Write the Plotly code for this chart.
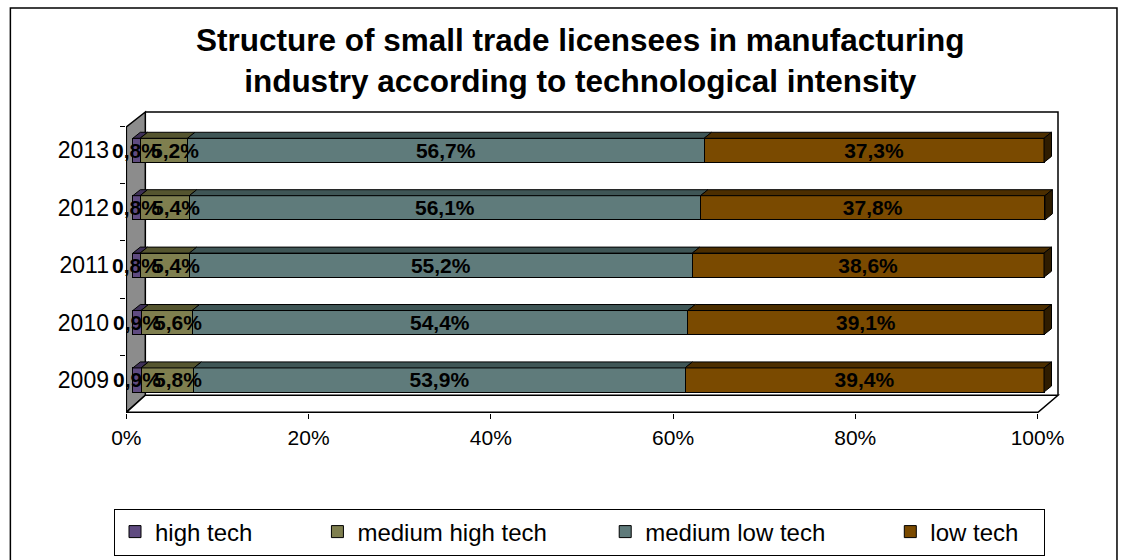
import plotly.graph_objects as go

years = [2009, 2010, 2011, 2012, 2013]
series_names = ["high tech", "medium high tech", "medium low tech", "low tech"]
high_tech = [0.9, 0.9, 0.8, 0.8, 0.8]
medium_high_tech = [5.8, 5.6, 5.4, 5.4, 5.2]
medium_low_tech = [53.9, 54.4, 55.2, 56.1, 56.7]
low_tech = [39.4, 39.1, 38.6, 37.8, 37.3]
x_ticks = [0, 20, 40, 60, 80, 100]

series_values = [high_tech, medium_high_tech, medium_low_tech, low_tech]
front_colors = ["#5f4b80", "#7f7f4f", "#5f7b7b", "#7a4a00"]
top_colors = ["#3e3057", "#55552f", "#3f5656", "#4c2e00"]
side_color = "#2e1c00"
label_font = dict(family="Arial, Liberation Sans", size=21, color="black", weight="bold")
# extra room after each legend name, like the excel legend spacing
legend_pad = [9, 8, 9, 3]

# 3d look: bars sit at mid depth, the axis / ticks on the front plane
px_per = 9.115           # pixels per 1 %
x0_px = 132.5            # pixel of 0 % at bar depth
cat_px = 57.35           # pixels per year
y0_px = 379.7            # pixel of 2009 at bar depth
dx = 7.5 / px_per        # bar depth offset in % units
dy = 6 / cat_px          # bar depth offset in year units
fx = 6.5 / px_per        # front plane offset (%)
fy = 4.5 / cat_px        # front plane offset (years)
bar_w = 0.42
# the plot area covers the whole 3d box, walls included
x_lo, x_hi = -0.75, (1061 - x0_px) / px_per
y_lo, y_hi = 2008.425, 2009 + (y0_px - 108) / cat_px
L = x0_px + x_lo * px_per
R = x0_px + x_hi * px_per
B = y0_px + (2009 - y_lo) * cat_px
T = y0_px - (y_hi - 2009) * cat_px
W, H = R - L, B - T


def px_x(p):
    return (p - L) / W


def px_y(p):
    return (B - p) / H


def box_path(pts, close=True):
    # pixel corners of the 3d box -> axis units
    p = "M " + " L ".join(f"{(a - x0_px) / px_per},{2009 + (y0_px - b) / cat_px}" for a, b in pts)
    return p + " Z" if close else p


fig = go.Figure()
for name, vals, col, pad in zip(series_names, series_values, front_colors, legend_pad):
    narrow = name in ("high tech", "medium high tech")
    fig.add_trace(go.Bar(
        y=years, x=vals, name=name + "\u00a0" * pad, orientation="h",
        marker=dict(color=col, line=dict(color="black", width=1)),
        width=bar_w,
        text=vals, texttemplate="%{x:.1f}%",
        textposition="none" if narrow else "inside",
        insidetextanchor="middle", textangle=0, constraintext="none",
        textfont=label_font, hoverinfo="skip",
    ))

# labels of the two thin segments overflow their bars, so put them on top
annotations = []
for i, yr in enumerate(years):
    annotations.append(dict(x=high_tech[i] / 2, y=yr, xref="x", yref="y", showarrow=False,
                            text=f"{high_tech[i]:.1f}%".replace(".", ","), font=label_font))
    annotations.append(dict(x=high_tech[i] + medium_high_tech[i] / 2, y=yr, xref="x", yref="y",
                            showarrow=False, xshift=11,
                            text=f"{medium_high_tech[i]:.1f}%".replace(".", ","), font=label_font))

shapes = []
# side wall and floor of the 3d box
shapes.append(dict(type="path", xref="x", yref="y", layer="below",
                   path=box_path([(126, 412), (145, 395), (145, 112), (126, 127)]),
                   fillcolor="#8c8c8c", line=dict(color="black", width=1.5)))
shapes.append(dict(type="path", xref="x", yref="y", layer="below",
                   path=box_path([(126, 412), (1038, 412), (1058, 395), (145, 395)]),
                   fillcolor="white", line=dict(color="black", width=1.5)))
# visible edges of the back wall (top and right)
shapes.append(dict(type="path", xref="x", yref="y", layer="above",
                   path=box_path([(145, 112), (1058, 112), (1058, 395)], close=False),
                   line=dict(color="black", width=1.5)))
# outer chart border
shapes.append(dict(type="rect", xref="paper", yref="paper", layer="below",
                   x0=px_x(10), x1=px_x(1117), y0=px_y(575), y1=px_y(8),
                   line=dict(color="black", width=1.5)))

# top faces and right side face of the bars
for i, yr in enumerate(years):
    start = 0
    yt = yr + bar_w / 2
    yb = yr - bar_w / 2
    for k, vals in enumerate(series_values):
        end = start + vals[i]
        shapes.append(dict(type="path", xref="x", yref="y", layer="above",
                           path=f"M {start},{yt} L {end},{yt} L {end+dx},{yt+dy} L {start+dx},{yt+dy} Z",
                           fillcolor=top_colors[k], line=dict(color="black", width=1)))
        start = end
    shapes.append(dict(type="path", xref="x", yref="y", layer="above",
                       path=f"M {start},{yb} L {start},{yt} L {start+dx},{yt+dy} L {start+dx},{yb+dy} Z",
                       fillcolor=side_color, line=dict(color="black", width=1)))

fig.update_layout(
    width=1131, height=560,
    barmode="stack",
    separators=",.",
    paper_bgcolor="white", plot_bgcolor="rgba(0,0,0,0)",
    margin=dict(l=L, r=1131 - R, t=T, b=560 - B, pad=0),
    font=dict(family="Arial, Liberation Sans", size=21, color="black"),
    title=dict(text="<b>Structure of small trade licensees in manufacturing<br>industry according to technological intensity</b>",
               x=0.513, xanchor="center", y=1 - 51 / 560, yanchor="middle",
               font=dict(size=31.5, color="black")),
    uniformtext=dict(minsize=21, mode="show"),
    shapes=shapes,
    annotations=annotations,
    legend=dict(orientation="h", xref="container", yref="container",
                x=114 / 1131, xanchor="left", y=1 - 532 / 560, yanchor="middle",
                bordercolor="black", borderwidth=1, bgcolor="white",
                font=dict(size=24), traceorder="normal"),
    showlegend=True,
)
fig.update_xaxes(range=[x_lo, x_hi], tickvals=[v - fx for v in x_ticks], ticktext=[f"{v}%" for v in x_ticks],
                 showgrid=False, zeroline=False, showline=False,
                 ticks="outside", ticklen=5, tickcolor="black", ticklabelstandoff=1)
fig.update_yaxes(range=[y_lo, y_hi], tickvals=years, ticktext=[str(y) for y in years],
                 showgrid=False, zeroline=False, showline=False, ticks="",
                 tickfont=dict(size=23),
                 minor=dict(tickvals=[y - 0.5 - fy for y in years] + [2013.5 - fy], ticks="outside",
                            ticklen=5, tickcolor="black"),
                 ticklabelstandoff=16)

fig.write_html("out.html", config={"displayModeBar": False},
               post_script="document.body.style.margin='0px';")
